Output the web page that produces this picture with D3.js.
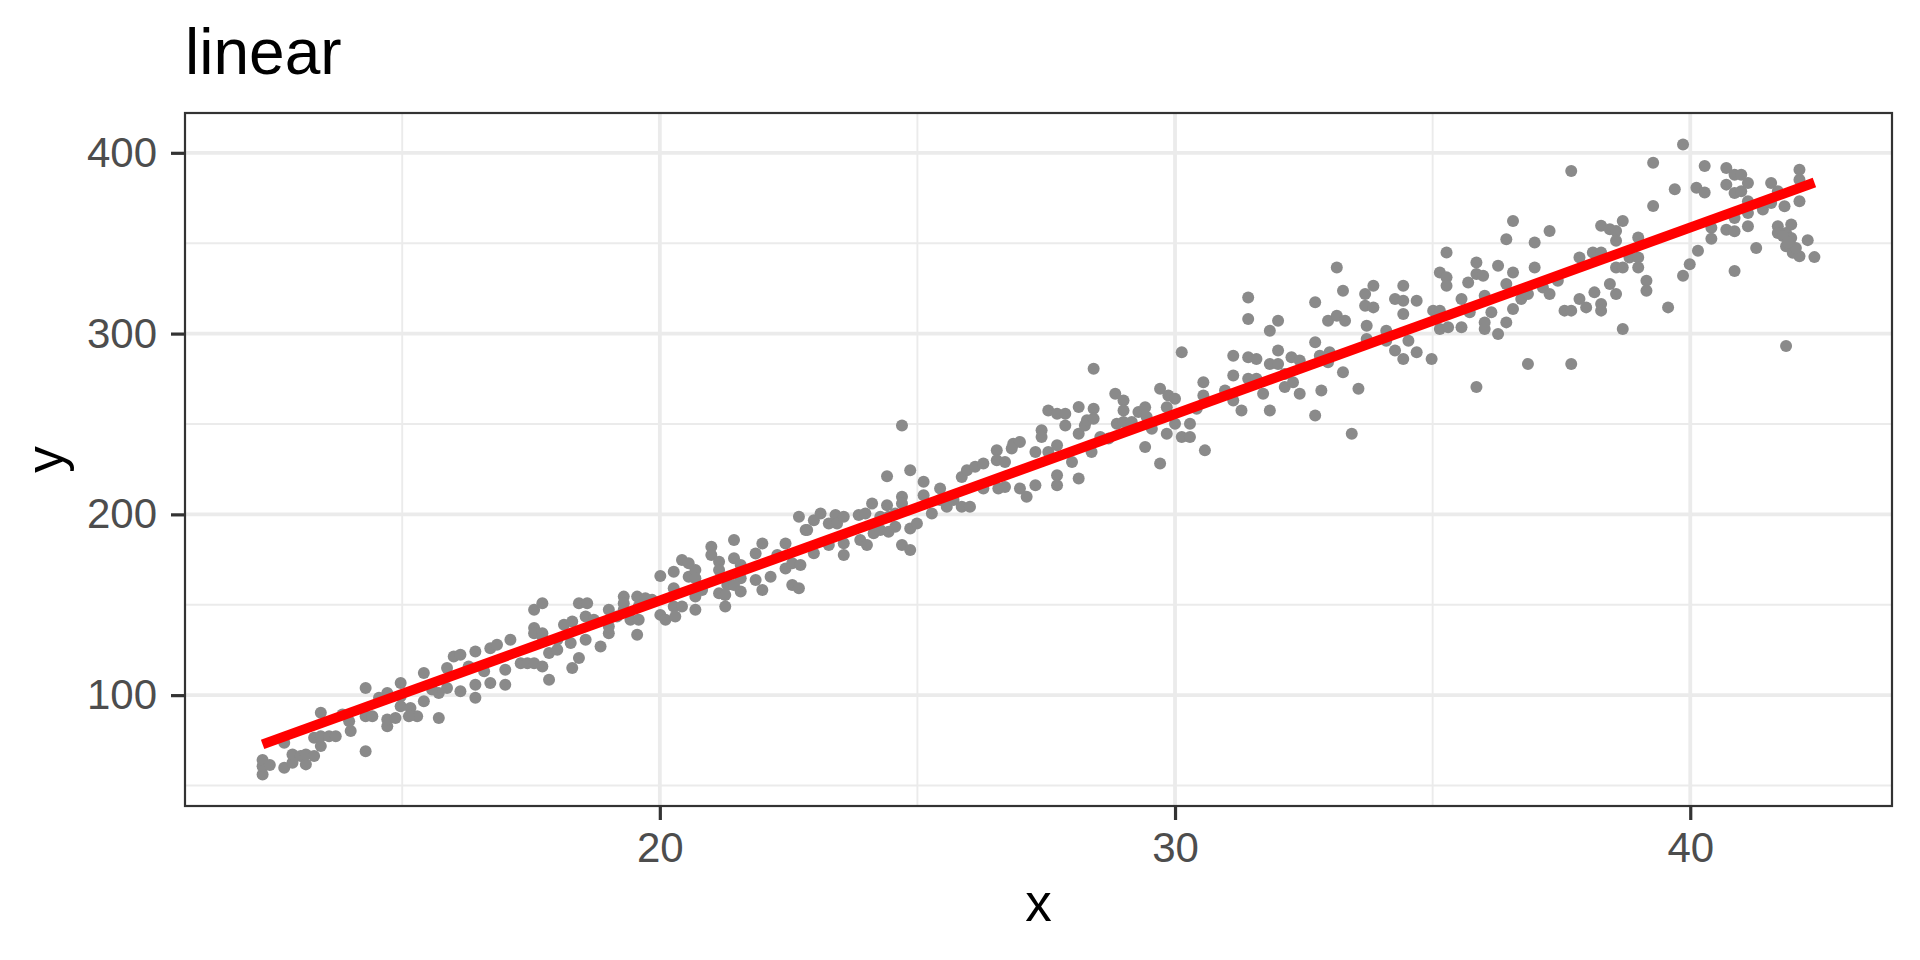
<!DOCTYPE html>
<html>
<head>
<meta charset="utf-8">
<script src="https://cdn.jsdelivr.net/npm/d3@7"></script>
<style>
  body { margin: 0; background: #fff; }
  svg { display: block; font-family: "Liberation Sans", Arial, sans-serif; }
</style>
</head>
<body>
<div id="chart"></div>
<script>
// points, x then y
const xVals = [
  12.29, 12.29, 12.29, 12.43, 12.71, 12.87, 12.87, 13.03, 13.13, 13.13, 13.29, 13.42, 13.29, 13.42, 13.58, 13.71,
  13.42, 12.71, 13.84, 14.0, 13.97, 14.29, 14.29, 14.29, 14.42, 14.55, 14.71, 14.71, 14.71, 14.87, 14.97, 14.97,
  14.97, 15.16, 15.29, 15.13, 15.42, 15.42, 15.71, 15.71, 15.58, 15.87, 15.87, 16.0, 16.13, 16.13, 16.29, 16.42,
  16.42, 16.42, 16.59, 16.71, 16.71, 16.84, 17.0, 17.0, 17.1,
  17.30, 17.43, 17.56, 17.72, 17.56, 17.56, 17.72, 17.72, 17.56, 17.72, 17.85, 17.85, 18.01, 18.01, 18.14, 18.3,
  18.27, 18.3, 18.43, 18.43, 18.59, 18.56, 18.72, 18.56, 18.85, 19.01, 19.01, 19.01, 19.17, 19.3, 19.3, 19.3,
  19.43, 19.56, 19.59, 19.56, 19.59, 19.72, 19.85, 20.01, 20.01, 20.11, 20.27, 20.27, 20.27, 20.3, 20.43, 20.43,
  20.56, 20.56, 20.69, 20.69, 20.69, 20.69, 20.82, 21.0, 21.0, 21.15, 21.15, 21.15, 21.27, 21.27, 21.31, 21.44,
  21.44, 21.57, 21.57, 21.57, 21.44, 21.86, 21.99, 21.86, 21.99, 22.15, 22.28, 22.44, 22.44, 22.57, 22.57, 22.7,
  22.7, 22.83, 22.73,
  22.86, 22.99, 22.99, 23.12, 23.28, 23.28, 23.41, 23.44, 23.57, 23.57, 23.57, 23.86, 23.89, 23.99, 24.02, 24.12,
  24.15, 24.28, 24.28, 24.41, 24.44, 24.44, 24.57, 24.57, 24.41, 24.7, 24.7, 24.7, 24.7, 24.86, 24.86, 24.86,
  24.99, 25.12, 25.12, 25.28, 25.44, 25.44, 25.57, 25.7, 25.86, 25.86, 25.96, 26.02, 26.12, 26.28, 26.28, 26.54,
  26.57, 26.7, 26.54, 26.7, 26.86, 26.99, 26.83, 26.99, 27.12, 27.29, 27.29, 27.41, 27.41, 27.54, 27.54, 27.71,
  27.71, 27.71, 27.71, 27.87, 27.87, 28.0, 28.13, 28.13, 28.13, 28.25, 28.29, 28.42, 28.42, 28.42, 28.38, 28.55,
  28.71,
  28.84, 29.0, 29.0, 28.87, 29.0, 29.16, 29.29, 29.42, 29.45, 29.42, 29.55, 29.71, 29.71, 29.87, 30.0, 29.84,
  29.84, 30.0, 30.13, 30.29, 30.29, 30.13, 30.42, 30.55, 30.55, 30.58, 30.97, 31.13, 31.13, 31.13, 31.29, 31.42,
  31.42, 31.42, 31.42, 31.58, 31.58, 31.71, 31.84, 31.84, 31.84, 32.0, 32.0, 32.0, 32.13, 32.13, 32.26, 32.29,
  32.42, 32.42, 32.72, 32.72, 32.72, 32.81, 32.84, 32.97, 33.0, 32.97, 33.14, 33.14, 33.26, 33.3, 33.26, 33.43,
  33.56, 33.69, 33.69, 33.72, 33.72, 33.85, 33.85, 34.1, 34.1, 34.27, 34.27, 34.43, 34.43, 34.43, 34.43, 34.53,
  34.69, 34.69, 34.98, 35.01, 35.14, 35.14, 35.14, 35.27, 35.27, 35.27, 35.3, 35.56, 35.56, 35.69, 35.72, 35.85,
  35.85, 35.85, 35.98, 36.01, 36.01, 36.01, 36.14, 36.27, 36.27, 36.43, 36.43, 36.43, 36.56, 36.56, 36.56, 36.72,
  36.85, 36.85, 36.98, 36.98, 37.14, 37.27, 37.27, 37.43, 37.56, 37.69, 37.69, 37.69, 37.85, 37.85, 37.98, 38.11,
  38.14, 38.27, 38.27, 38.27, 38.27, 38.44, 38.44, 38.56, 38.56, 38.56, 38.56, 38.69, 38.69, 38.69, 38.82, 38.99,
  38.99, 38.99, 39.15, 39.15, 39.28, 39.28, 39.57, 39.7, 39.86, 39.86, 39.99, 40.12, 40.15, 40.28, 40.28,
  40.41, 40.41, 40.70, 40.70, 40.70, 40.86, 40.86, 40.86, 40.86, 40.86, 40.99, 40.99, 41.12, 41.12, 41.12, 41.12,
  41.28, 41.41, 41.57, 41.57, 41.70, 41.70, 41.70, 41.83, 41.86, 41.86, 41.86, 41.96, 41.96, 41.99, 42.12, 42.12,
  42.12, 42.12, 42.28, 42.41, 41.8, 41.93, 42.05, 41.9
];
const yVals = [
  56.1, 60.7, 64.1, 61.3, 59.8, 62.6, 67.2, 66.3, 61.7, 67.2, 66.3, 71.8, 76.4, 77.3, 77.3, 77.3,
  90.2, 73.6, 89.3, 80.1, 85.6, 104, 69.0, 88.3, 88.3, 98.5, 101.2, 82.8, 86.5, 87.4, 106.7, 99.4,
  93.9, 92.9, 88.3, 88.3, 112.2, 96.6, 87.4, 101.2, 103.1, 115.0, 104.0, 121.4, 122.4, 102.1, 115.9, 124.2,
  105.8, 98.5, 113.2, 126.0, 106.7, 127.9, 114.1, 105.8, 130.6,
  117.7, 117.7, 117.7, 115.9, 137.1, 134.3, 134.3, 132.5, 147.2, 150.8, 108.5, 123.3, 125.1, 130.6, 138.9, 140.7,
  128.8, 115.0, 120.5, 150.8, 150.8, 143.5, 141.7, 130.6, 126.9, 147.2, 134.3, 138.0, 143.5, 154.5, 150.8, 147.2,
  141.7, 154.5, 149.0, 133.4, 141.7, 153.6, 152.7, 165.9, 144.4, 141.7, 168.3, 159.1, 149.0, 143.5, 174.8, 149.0,
  172.9, 165.5, 169.2, 164.6, 154.5, 147.2, 158.2, 182.1, 177.5, 173.8, 169.2, 156.4, 155.4, 149.0, 160.9, 185.8,
  175.7, 172.0, 164.6, 157.3, 160.9, 178.4, 183.9, 163.7, 158.2, 165.5, 177.5, 183.9, 170.1, 172.9, 160.9, 159.1,
  198.7, 191.3, 172.0,
  191.3, 196.8, 178.5, 200.5, 195.0, 183.0, 199.6, 195.0, 198.7, 177.5, 184.0, 199.6, 185.8, 200.5, 183.0, 206.0,
  189.5, 198.7, 191.3, 205.1, 198.7, 190.4, 200.5, 193.2, 221.1, 249.2, 209.7, 206.0, 183.0, 224.4, 180.3, 192.2,
  195.0, 218.0, 210.6, 200.5, 214.3, 207.9, 204.2, 207.9, 220.7, 204.2, 224.4, 204.2, 226.3, 228.1, 214.3, 235.5,
  214.3, 215.2, 229.9, 229.0, 239.1, 240.0, 236.4, 214.3, 209.7, 234.5, 216.1, 246.5, 242.8, 257.5, 234.5, 255.7,
  238.2, 221.7, 216.1, 255.7, 249.2, 229.0, 259.4, 244.6, 219.8, 249.2, 252.0, 258.4, 252.9, 280.5, 234.5, 242.8,
  241.9,
  266.7, 263.0, 257.5, 250.1, 251.1, 251.1, 256.6, 259.3, 253.8, 237.3, 247.4, 269.5, 228.1, 265.8, 263.9, 259.3,
  244.6, 250.1, 242.8, 250.1, 242.8, 289.7, 258.4, 273.1, 265.8, 235.4, 268.5, 287.8, 276.8, 263.0, 257.5, 320.0,
  308.1, 286.9, 275.0, 286.0, 275.0, 266.7, 301.6, 283.2, 257.5, 307.1, 290.6, 283.2, 277.7, 270.4, 286.9, 273.1,
  285.1, 266.7, 317.3, 295.2, 254.7, 287.8, 268.5, 307.1, 289.7, 284.2, 336.6, 309.9, 323.7, 307.1, 278.6, 244.6,
  269.5, 321.9, 315.4, 304.4, 297.0, 326.5, 314.5, 301.6, 296.1, 319.1, 290.6, 326.5, 318.2, 310.8, 286.0, 296.1,
  318.2, 289.7, 286.0, 312.7, 333.8, 312.7, 302.6, 344.9, 331.1, 326.5, 303.5, 319.1, 303.5, 328.3, 311.8, 339.3,
  332.9, 270.4, 332.0, 321.0, 306.2, 302.6, 311.8, 337.5, 299.8, 352.2, 327.4, 306.2, 362.3, 333.8, 313.6, 319.1,
  283.2, 321.9, 350.4, 336.6, 325.5, 356.8, 321.9, 329.2, 312.7, 389.9, 312.7, 283.2, 342.1, 319.1, 314.5, 344.9,
  322.8, 359.6, 344.9, 316.4, 312.7, 357.7, 327.4, 356.8, 351.3, 336.6, 321.9, 362.3, 336.6, 302.6, 342.1, 353.1,
  342.1, 336.6, 329.2, 323.7, 394.5, 370.6, 314.5, 379.8, 404.6, 332.0, 338.4, 380.7, 345.8, 392.7, 378.0,
  358.5, 352.4, 391.6, 382.4, 357.5, 387.9, 377.8, 364.0, 356.6, 334.6, 387.9, 378.7, 383.3, 373.2, 366.7, 359.4,
  347.4, 368.6, 383.3, 372.3, 378.7, 359.4, 355.7, 370.4, 355.7, 348.3, 293.2, 360.3, 352.9, 344.7, 390.6, 385.1,
  373.2, 342.8, 351.7, 342.3, 354.0, 349.3, 347.4, 350.2
];
const xMajor = [20, 30, 40];
const xMinor = [15, 25, 35];
const yMajor = [100, 200, 300, 400];
const yMinor = [50, 150, 250, 350];
const title = "linear";

const points = xVals.map((x, i) => ({x: x, y: yVals[i]}));

const width = 1920, height = 960;
const margin = {top: 113, right: 28, bottom: 154, left: 185};

// ggplot style 5% expansion
function expand(ext) {
  const d = (ext[1] - ext[0]) * 0.05;
  return [ext[0] - d, ext[1] + d];
}

const x = d3.scaleLinear()
  .domain(expand(d3.extent(points, d => d.x)))
  .range([margin.left, width - margin.right]);
const y = d3.scaleLinear()
  .domain(expand(d3.extent(points, d => d.y)))
  .range([height - margin.bottom, margin.top]);

// least squares fit, like geom_smooth(method = "lm")
const mx = d3.mean(points, d => d.x), my = d3.mean(points, d => d.y);
const slope = d3.sum(points, d => (d.x - mx) * (d.y - my)) / d3.sum(points, d => (d.x - mx) ** 2);
const icpt = my - slope * mx;
const xr = d3.extent(points, d => d.x);
const fit = xr.map(v => ({x: v, y: icpt + slope * v}));

const svg = d3.select("#chart").append("svg")
  .attr("width", width)
  .attr("height", height);

const x0 = margin.left, x1 = width - margin.right;
const y0 = height - margin.bottom, y1 = margin.top;

const grid = svg.append("g").attr("stroke", "#EBEBEB");
grid.selectAll(".ymin").data(yMinor).join("line")
  .attr("x1", x0).attr("x2", x1)
  .attr("y1", d => y(d)).attr("y2", d => y(d))
  .attr("stroke-width", 1.9);
grid.selectAll(".xmin").data(xMinor).join("line")
  .attr("y1", y0).attr("y2", y1)
  .attr("x1", d => x(d)).attr("x2", d => x(d))
  .attr("stroke-width", 1.9);
grid.selectAll(".ymaj").data(yMajor).join("line")
  .attr("x1", x0).attr("x2", x1)
  .attr("y1", d => y(d)).attr("y2", d => y(d))
  .attr("stroke-width", 3.8);
grid.selectAll(".xmaj").data(xMajor).join("line")
  .attr("y1", y0).attr("y2", y1)
  .attr("x1", d => x(d)).attr("x2", d => x(d))
  .attr("stroke-width", 3.8);

svg.append("g").selectAll("circle")
  .data(points)
  .join("circle")
  .attr("cx", d => x(d.x))
  .attr("cy", d => y(d.y))
  .attr("r", 6)
  .attr("fill", "#8A8A8A");

svg.append("path")
  .datum(fit)
  .attr("fill", "none")
  .attr("stroke", "#FF0000")
  .attr("stroke-width", 10)
  .attr("d", d3.line().x(d => x(d.x)).y(d => y(d.y)));

svg.append("rect")
  .attr("x", x0).attr("y", y1)
  .attr("width", x1 - x0).attr("height", y0 - y1)
  .attr("fill", "none")
  .attr("stroke", "#333333")
  .attr("stroke-width", 2.2);

const xAxis = svg.append("g")
  .attr("transform", `translate(0,${y0})`)
  .call(d3.axisBottom(x).tickValues(xMajor).tickFormat(d3.format("d")).tickSize(14).tickPadding(12));
const yAxis = svg.append("g")
  .attr("transform", `translate(${x0},0)`)
  .call(d3.axisLeft(y).tickValues(yMajor).tickFormat(d3.format("d")).tickSize(14).tickPadding(14));

[xAxis, yAxis].forEach(a => {
  a.select(".domain").remove();
  a.selectAll(".tick line").attr("stroke", "#333333").attr("stroke-width", 3.2);
  a.selectAll(".tick text")
    .attr("fill", "#4D4D4D")
    .style("font-size", "42px")
    .style("font-family", "'Liberation Sans', Arial, sans-serif");
});

svg.append("text")
  .attr("x", 185).attr("y", 74)
  .attr("font-size", 64)
  .attr("fill", "#000")
  .text(title);

svg.append("text")
  .attr("x", (x0 + x1) / 2).attr("y", 921)
  .attr("text-anchor", "middle")
  .attr("font-size", 53)
  .attr("fill", "#000")
  .text("x");

svg.append("text")
  .attr("transform", `translate(63,${(y0 + y1) / 2}) rotate(-90)`)
  .attr("text-anchor", "middle")
  .attr("font-size", 53)
  .attr("fill", "#000")
  .text("y");
</script>
</body>
</html>
